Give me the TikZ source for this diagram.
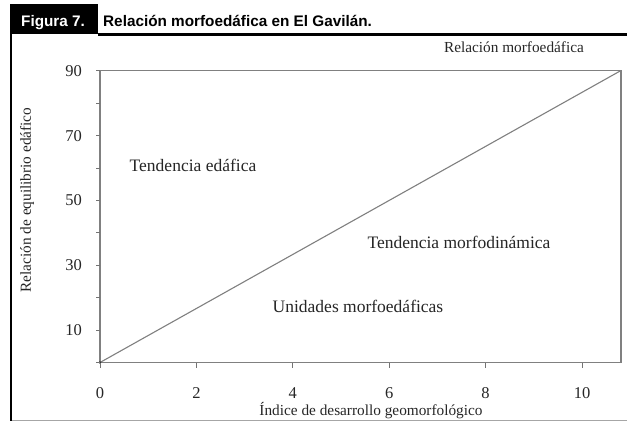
\documentclass[tikz,border=0pt]{standalone}
\usepackage{fontspec}
\setmainfont{Liberation Serif}
\newfontfamily\hdfont{Liberation Sans}
\begin{document}
\begin{tikzpicture}[x=1pt,y=-1pt,
  plotline/.style={draw=black!50, line width=1.1pt},
  tickline/.style={draw=black!55, line width=0.9pt},
  lbl/.style={text=black!85, inner sep=0pt, font=\fontsize{17.5}{19}\selectfont},
  axlbl/.style={text=black!85, inner sep=0pt, font=\fontsize{15.3}{17}\selectfont},
  ticklbl/.style={text=black!85, inner sep=0pt, font=\fontsize{16.5}{18}\selectfont},
  hdr/.style={inner sep=0pt, font=\hdfont\bfseries\fontsize{15.3}{17}\selectfont}]
\useasboundingbox (0,0) rectangle (627,421);
\fill[white] (0,0) rectangle (627,421);
% header
\fill[black] (10,4) rectangle (98,34);
\node[hdr, text=white, anchor=base west] (fig) at (21,26) {Figura 7.};
\node[hdr, text=black, anchor=base west] (title) at (103,26) {Relación morfoedáfica en El Gavilán.};
\fill[black] (98,32.5) rectangle (627,35.5);
\fill[black] (10,34) rectangle (12.3,421);
\draw[draw=black!35, line width=0.9pt] (12,420) -- (627,420);
% plot frame
\coordinate (O) at (100,362.5);
\coordinate (TL) at (100,70.5);
\coordinate (TR) at (621,70.5);
\coordinate (BR) at (621,362.5);
\draw[plotline] (O) -- (TL) -- (TR) -- (BR) -- cycle;
\draw[plotline] (O) -- (TR);
\fill[black!80] (O) circle (1.4pt);
% y ticks
\foreach \v in {0,10,...,90}{
  \draw[tickline] (96,{362.5-3.24*\v}) -- (100,{362.5-3.24*\v});
}
\foreach \v in {10,30,50,70,90}{
  \node[ticklbl, anchor=east] (y\v) at (82,{362.5-3.24*\v}) {\v};
}
% x ticks
\foreach \u in {0,2,...,10}{
  \draw[tickline] ({100+48.2*\u},362.5) -- ({100+48.2*\u},368);
  \node[ticklbl, anchor=base] (x\u) at ({100+48.2*\u},398) {\u};
}
% axis titles
\node[axlbl, anchor=base] (xt) at (371,415.5) {Índice de desarrollo geomorfológico};
\node[axlbl, rotate=90] (yt) at (27,200) {Relación de equilibrio edáfico};
% labels
\node[axlbl] (rm) at (514,47) {Relación morfoedáfica};
\node[lbl] (te) at (193,165) {Tendencia edáfica};
\node[lbl] (tm) at (459,242) {Tendencia morfodinámica};
\node[lbl] (um) at (358,306) {Unidades morfoedáficas};
\end{tikzpicture}
\end{document}
